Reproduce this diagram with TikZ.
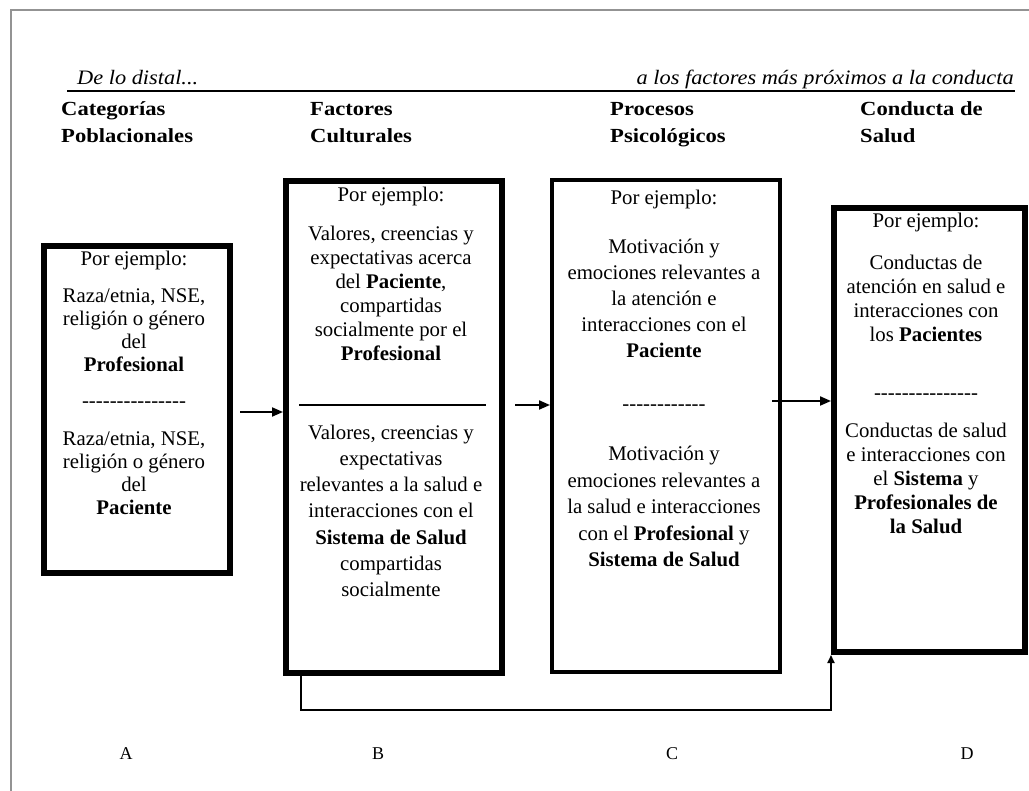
\documentclass[tikz,border=0pt]{standalone}
\usepackage{fontspec}
\setmainfont{Liberation Serif}
\newfontfamily\hdrfont{Liberation Serif}[FakeStretch=1.13]
\newfontfamily\italfont{Liberation Serif}[FakeStretch=1.09]
\usetikzlibrary{calc,arrows.meta}
\newcommand\dashrow[1]{\foreach \k in {1,...,#1}{-\kern0pt}}
\tikzset{
 box/.style={draw=black, fill=white, line width=6pt, inner sep=0pt, anchor=north west},
 txt/.style={anchor=base, inner sep=0pt, font=\fontsize{20.8}{24}\selectfont},
 hdr/.style={anchor=base west, inner sep=0pt, font=\hdrfont\fontsize{20}{24}\selectfont\bfseries},
 ital/.style={inner sep=0pt, font=\italfont\fontsize{20.5}{24}\selectfont\itshape},
 lbl/.style={anchor=base, inner sep=0pt, font=\fontsize{18}{20}\selectfont},
 arr/.style={line width=2pt, -{Triangle[length=11pt,width=9pt]}},
 conn/.style={line width=1.8pt},
 framel/.style={draw=gray!85, line width=2pt}
}
\begin{document}
\begin{tikzpicture}[x=1pt,y=-1pt]
\useasboundingbox (0,0) rectangle (1029,791);
\draw[framel] (11,791) -- (11,10) -- (1029,10);

% top italic line
\node[ital, anchor=base west] (dist) at (77,85) {De lo distal...};
\node[ital, anchor=base east] (prox) at (1014,85) {a los factores más próximos a la conducta};
\draw[line width=1.8pt] (67,91) -- (1015,91);

% headers
\node[hdr] (hA1) at (61,116) {Categorías};
\node[hdr] (hA2) at (61,143) {Poblacionales};
\node[hdr] (hB1) at (310,116) {Factores};
\node[hdr] (hB2) at (310,143) {Culturales};
\node[hdr] (hC1) at (610,116) {Procesos};
\node[hdr] (hC2) at (610,143) {Psicológicos};
\node[hdr] (hD1) at (860,116) {Conducta de};
\node[hdr] (hD2) at (860,143) {Salud};

% boxes
\node[box, minimum width=186pt, minimum height=327pt] (a) at (41,243) {};
\node[box, minimum width=216pt, minimum height=492pt] (b) at (283,178) {};
\node[box, line width=4pt, minimum width=228pt, minimum height=492pt] (c) at (550,178) {};
\node[box, minimum width=191pt, minimum height=444pt] (d) at (831,205) {};

% box A text
\node[txt] (a0) at (134,266) {Por ejemplo:};
\foreach \myline [count=\i from 0] in {{Raza/etnia, NSE,},{religión o género},{del},{\textbf{Profesional}}}
  \node[txt] (a1-\i) at (134,{303+23*\i}) {\myline};
\node[txt] (asep) at (134,408) {\dashrow{15}};
\foreach \myline [count=\i from 0] in {{Raza/etnia, NSE,},{religión o género},{del},{\textbf{Paciente}}}
  \node[txt] (a2-\i) at (134,{446+23*\i}) {\myline};

% box B text
\node[txt] (b0) at (391,202) {Por ejemplo:};
\foreach \myline [count=\i from 0] in {{Valores, creencias y},{expectativas acerca},{del \textbf{Paciente},},{compartidas},{socialmente por el},{\textbf{Profesional}}}
  \node[txt] (b1-\i) at (391,{241+24*\i}) {\myline};
\draw[line width=1.5pt] ($(b.west |- 0,405)+(16,0)$) -- ($(b.east |- 0,405)+(-19,0)$);
\foreach \myline [count=\i from 0] in {{Valores, creencias y},{expectativas},{relevantes a la salud e},{interacciones con el},{\textbf{Sistema de Salud}},{compartidas},{socialmente}}
  \node[txt] (b2-\i) at (391,{440+26*\i}) {\myline};

% box C text
\node[txt] (c0) at (664,205) {Por ejemplo:};
\foreach \myline [count=\i from 0] in {{Motivación y},{emociones relevantes a},{la atención e},{interacciones con el},{\textbf{Paciente}}}
  \node[txt] (c1-\i) at (664,{254+26*\i}) {\myline};
\node[txt] (csep) at (664,411) {\dashrow{12}};
\foreach \myline [count=\i from 0] in {{Motivación y},{emociones relevantes a},{la salud e interacciones},{con el \textbf{Profesional} y},{\textbf{Sistema de Salud}}}
  \node[txt] (c2-\i) at (664,{461+26.5*\i}) {\myline};

% box D text
\node[txt] (d0) at (926,228) {Por ejemplo:};
\foreach \myline [count=\i from 0] in {{Conductas de},{atención en salud e},{interacciones con},{los \textbf{Pacientes}}}
  \node[txt] (d1-\i) at (926,{270+24*\i}) {\myline};
\node[txt] (dsep) at (926,400) {\dashrow{15}};
\foreach \myline [count=\i from 0] in {{Conductas de salud},{e interacciones con},{el \textbf{Sistema} y},{\textbf{Profesionales de}},{\textbf{la Salud}}}
  \node[txt] (d2-\i) at (926,{438+24*\i}) {\myline};

% arrows
\draw[arr] ($(a.east |- 0,412)+(7,0)$) -- (b.west |- 0,412);
\draw[arr] ($(b.east |- 0,405)+(10,0)$) -- (c.west |- 0,405);
\draw[arr] ($(c.east |- 0,401)+(-10,0)$) -- (d.west |- 0,401);

% feedback connector
\coordinate (fbl) at (301,710);
\coordinate (fbr) at (d.south west |- fbl);
\draw[conn, -{Triangle[length=8pt,width=7pt]}] (b.south -| fbl) -- (fbl) -- (fbr) -- (d.south west);

% bottom labels
\node[lbl] (lA) at (126,759) {A};
\node[lbl] (lB) at (378,759) {B};
\node[lbl] (lC) at (672,759) {C};
\node[lbl] (lD) at (967,759) {D};
\end{tikzpicture}
\end{document}
